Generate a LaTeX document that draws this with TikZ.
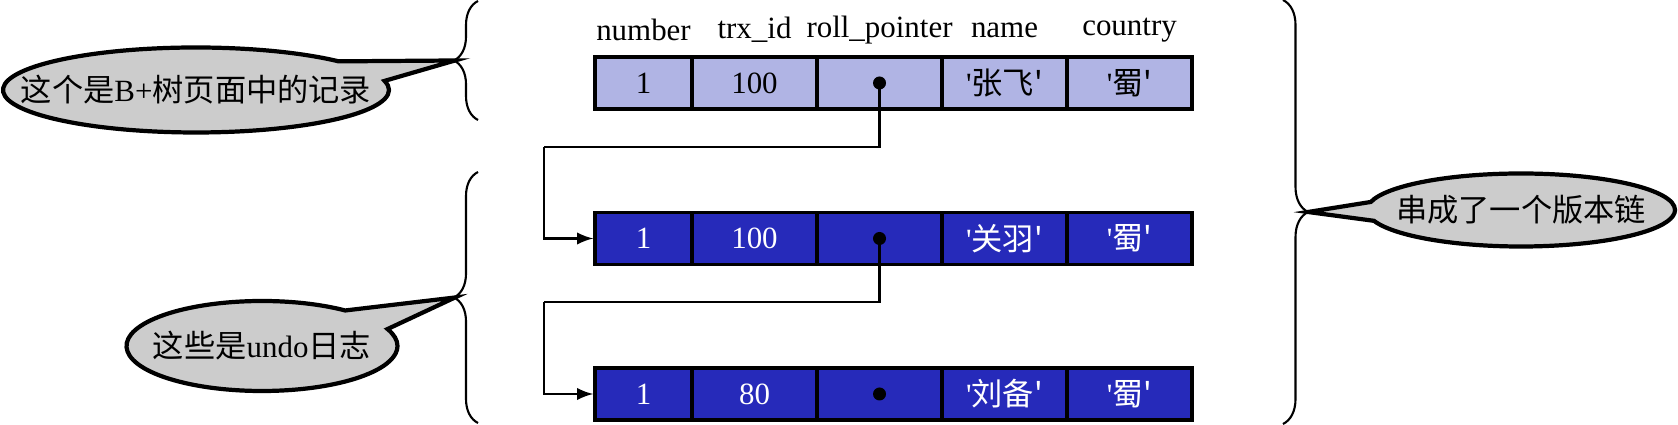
\documentclass[tikz,border=0pt]{standalone}
\usepackage{fontspec}
\setmainfont{Liberation Serif}
\newfontfamily\cjk[Scale=1.01]{Noto Sans CJK SC}
\usetikzlibrary{shapes.callouts,decorations.pathreplacing}
\definecolor{rowold}{RGB}{176,180,228}
\definecolor{rownew}{RGB}{38,42,186}
\definecolor{saygray}{RGB}{204,204,204}
\newcommand{\quoted}[1]{\textquotesingle#1\textquotesingle}

\begin{document}
\begin{tikzpicture}[font=\fontsize{8.8pt}{10pt}\selectfont,
  cell/.style={draw, line width=1pt, minimum width=1.25cm, minimum height=0.52cm, inner sep=0pt},
  first/.style={cell, minimum width=0.97cm},
  light/.style={fill=rowold, text=black},
  dark/.style={fill=rownew, text=white},
  brace/.style={decorate, decoration={brace, amplitude=0.24cm}, line width=0.6pt},
  bubble/.style={ellipse callout, draw, fill=saygray, line width=1.2pt, inner xsep=-2cm, inner ysep=-1cm, callout pointer arc=30},
  link/.style={line width=0.6pt}]

\useasboundingbox (0,0) rectangle (16.78,4.25);

% column names
\node (hnum) at (6.435,3.95) {number};
\node (htrx) at (7.545,3.95) {trx\_id};
\node (hptr) at (8.795,3.95) {roll\_pointer};
\node (hname) at (10.045,3.95) {name};
\node (hctry) at (11.295,3.95) {country};

% record in the B+ tree page
\node[first,light] (num1) at (6.435,3.42) {1};
\node[cell,light] (trx1) at (7.545,3.42) {100};
\node[cell,light] (ptr1) at (8.795,3.42) {};
\node[cell,light] (name1) at (10.045,3.42) {\quoted{\cjk 张飞}};
\node[cell,light] (ctry1) at (11.295,3.42) {\quoted{\cjk 蜀}};

% undo log records
\node[first,dark] (num2) at (6.435,1.865) {1};
\node[cell,dark] (trx2) at (7.545,1.865) {100};
\node[cell,dark] (ptr2) at (8.795,1.865) {};
\node[cell,dark] (name2) at (10.045,1.865) {\quoted{\cjk 关羽}};
\node[cell,dark] (ctry2) at (11.295,1.865) {\quoted{\cjk 蜀}};

\node[first,dark] (num3) at (6.435,0.31) {1};
\node[cell,dark] (trx3) at (7.545,0.31) {80};
\node[cell,dark] (ptr3) at (8.795,0.31) {};
\node[cell,dark] (name3) at (10.045,0.31) {\quoted{\cjk 刘备}};
\node[cell,dark] (ctry3) at (11.295,0.31) {\quoted{\cjk 蜀}};

% roll pointers
\fill (ptr1.center) circle (0.065);
\fill (ptr2.center) circle (0.065);
\fill (ptr3.center) circle (0.065);
\coordinate (bend1) at (5.44,2.78);
\coordinate (bend2) at (5.44,1.23);
\draw[link] (ptr1.center) |- (bend1);
\draw[link,-latex] (bend1) |- (num2.west);
\draw[link] (ptr2.center) |- (bend2);
\draw[link,-latex] (bend2) |- (num3.west);

% braces
\draw[brace] (4.78,3.05) -- (4.78,4.24);
\draw[brace] (4.78,0.02) -- (4.78,2.53);
\draw[brace,decoration={amplitude=0.25cm}] (12.83,4.25) -- (12.83,0.01);
\coordinate (tip1) at (4.55,3.645);
\coordinate (tip2) at (4.55,1.275);
\coordinate (tip3) at (13.08,2.13);

% callouts
\node[bubble, minimum width=3.86cm, minimum height=0.85cm, callout absolute pointer=(tip1)] (say1) at (1.96,3.35) {{\cjk 这个是}B+{\cjk 树页面中的记录}};
\node[bubble, minimum width=2.71cm, minimum height=0.90cm, callout absolute pointer=(tip2)] (say2) at (2.62,0.79) {{\cjk 这些是}undo{\cjk 日志}};
\node[bubble, minimum width=3.08cm, minimum height=0.73cm, callout absolute pointer=(tip3)] (say3) at (15.21,2.15) {\cjk 串成了一个版本链};
\end{tikzpicture}
\end{document}
